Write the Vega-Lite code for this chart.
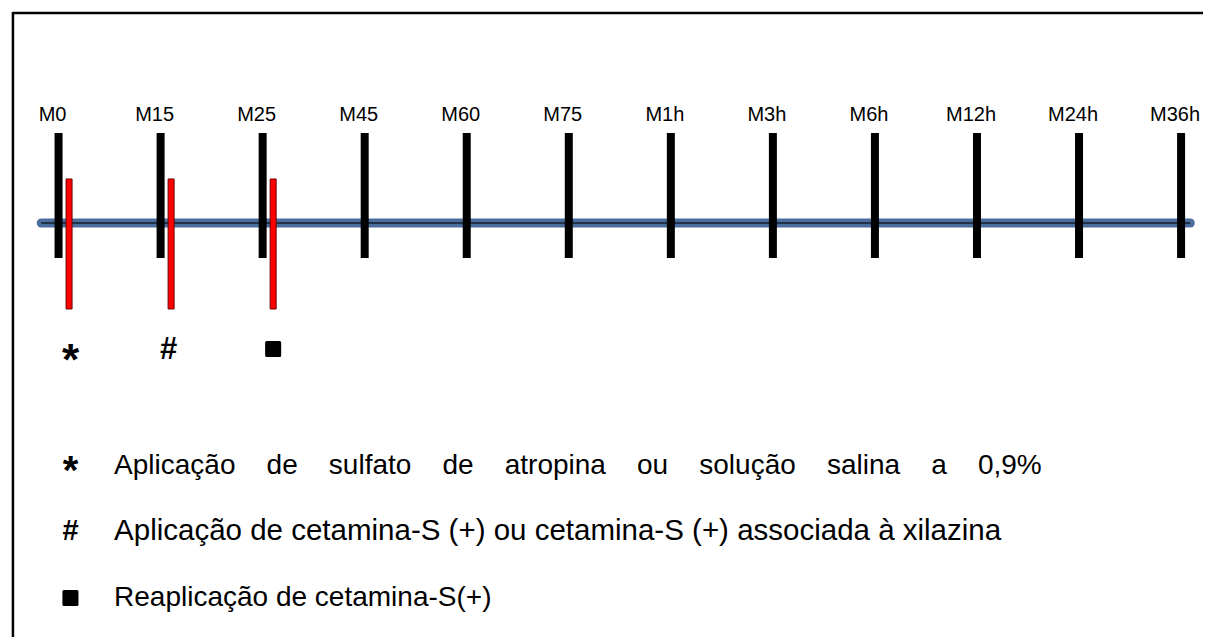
{
  "$schema": "https://vega.github.io/schema/vega-lite/v6.json",
  "width": 1208,
  "height": 637,
  "autosize": {"type": "none"},
  "padding": 0,
  "background": "white",
  "config": {"view": {"stroke": null}, "axis": {"disable": true}, "font": "Liberation Sans"},
  "datasets": {
    "times": [
      {"t": 0, "label": "M0"}, {"t": 1, "label": "M15"}, {"t": 2, "label": "M25"},
      {"t": 3, "label": "M45"}, {"t": 4, "label": "M60"}, {"t": 5, "label": "M75"},
      {"t": 6, "label": "M1h"}, {"t": 7, "label": "M3h"}, {"t": 8, "label": "M6h"},
      {"t": 9, "label": "M12h"}, {"t": 10, "label": "M24h"}, {"t": 11, "label": "M36h"}
    ],
    "apps": [
      {"t": 0, "row": 1, "sym": "*", "desc": "Aplicação\u00a0\u00a0\u00a0\u00a0de\u00a0\u00a0\u00a0\u00a0sulfato\u00a0\u00a0\u00a0\u00a0de\u00a0\u00a0\u00a0\u00a0atropina\u00a0\u00a0\u00a0\u00a0ou\u00a0\u00a0\u00a0\u00a0solução\u00a0\u00a0\u00a0\u00a0salina\u00a0\u00a0\u00a0\u00a0a\u00a0\u00a0\u00a0\u00a00,9%"},
      {"t": 1, "row": 2, "sym": "#", "desc": "Aplicação de cetamina-S (+) ou cetamina-S (+) associada à xilazina"},
      {"t": 2, "row": 3, "sym": "■", "desc": "Reaplicação de cetamina-S(+)"}
    ],
    "one": [{}]
  },
  "layer": [
    {
      "data": {"name": "one"},
      "mark": {"type": "rule", "color": "black", "strokeWidth": 2.5},
      "encoding": {
        "x": {"datum": -0.45, "type": "quantitative", "scale": {"domain": [-0.5248, 11.2148], "nice": false, "zero": false}},
        "x2": {"datum": 11.2148},
        "y": {"datum": -5.985, "type": "quantitative", "scale": {"domain": [-6.1818, 3.4697], "nice": false, "zero": false, "reverse": true}}
      }
    },
    {
      "data": {"name": "one"},
      "mark": {"type": "rule", "color": "black", "strokeWidth": 2.5},
      "encoding": {
        "x": {"datum": -0.447, "type": "quantitative"},
        "y": {"datum": -6.0, "type": "quantitative"},
        "y2": {"datum": 3.4697}
      }
    },
    {
      "data": {"name": "one"},
      "mark": {"type": "rule", "color": "#4a6d9d", "strokeWidth": 9, "strokeCap": "round"},
      "encoding": {
        "x": {"datum": -0.17, "type": "quantitative"},
        "x2": {"datum": 11.09},
        "y": {"datum": -2.803, "type": "quantitative"}
      }
    },
    {
      "data": {"name": "one"},
      "mark": {"type": "rule", "color": "#16202c", "strokeWidth": 1.5},
      "encoding": {
        "x": {"datum": -0.17, "type": "quantitative"},
        "x2": {"datum": 11.09},
        "y": {"datum": -2.803, "type": "quantitative"}
      }
    },
    {
      "data": {"name": "times"},
      "mark": {"type": "rule", "color": "black", "strokeWidth": 8, "strokeCap": "butt"},
      "encoding": {
        "x": {"field": "t", "type": "quantitative"},
        "y": {"datum": -4.167, "type": "quantitative"},
        "y2": {"datum": -2.273}
      }
    },
    {
      "data": {"name": "apps"},
      "mark": {"type": "bar", "width": 6, "fill": "#ff0000", "stroke": "#6e0000", "strokeWidth": 1, "xOffset": 10.5},
      "encoding": {
        "x": {"field": "t", "type": "quantitative"},
        "y": {"datum": -3.47, "type": "quantitative"},
        "y2": {"datum": -1.5}
      }
    },
    {
      "data": {"name": "times"},
      "mark": {"type": "text", "fontSize": 20, "font": "Liberation Sans", "color": "black", "align": "center", "baseline": "alphabetic", "dx": -6},
      "encoding": {
        "x": {"field": "t", "type": "quantitative"},
        "y": {"datum": -4.348, "type": "quantitative"},
        "text": {"field": "label"}
      }
    },
    {
      "data": {"name": "apps"},
      "transform": [{"filter": "datum.sym === '*'"}],
      "mark": {"type": "text", "fontSize": 44, "font": "Liberation Sans", "fontWeight": "bold", "color": "black", "align": "center", "baseline": "alphabetic", "xOffset": 12},
      "encoding": {
        "x": {"field": "t", "type": "quantitative"},
        "y": {"datum": -0.5, "type": "quantitative"},
        "text": {"field": "sym"}
      }
    },
    {
      "data": {"name": "apps"},
      "transform": [{"filter": "datum.sym === '#'"}],
      "mark": {"type": "text", "fontSize": 31, "font": "Liberation Sans", "fontWeight": "bold", "color": "black", "align": "center", "baseline": "alphabetic", "xOffset": 8},
      "encoding": {
        "x": {"field": "t", "type": "quantitative"},
        "y": {"datum": -0.74, "type": "quantitative"},
        "text": {"field": "sym"}
      }
    },
    {
      "data": {"name": "apps"},
      "transform": [{"filter": "datum.row === 3"}],
      "mark": {"type": "point", "shape": "square", "size": 170, "filled": true, "color": "black", "stroke": "black", "strokeWidth": 3, "strokeJoin": "round", "opacity": 1, "xOffset": 10.5},
      "encoding": {
        "x": {"field": "t", "type": "quantitative"},
        "y": {"datum": -0.894, "type": "quantitative"}
      }
    },
    {
      "data": {"name": "apps"},
      "mark": {"type": "text", "font": "Liberation Sans", "color": "black", "align": "left", "baseline": "alphabetic"},
      "encoding": {
        "x": {"datum": 0.544, "type": "quantitative"},
        "y": {"field": "row", "type": "quantitative"},
        "text": {"field": "desc"},
        "size": {"condition": {"test": "datum.row === 2", "value": 29.5}, "value": 28}
      }
    },
    {
      "data": {"name": "apps"},
      "transform": [{"filter": "datum.sym === '*'"}],
      "mark": {"type": "text", "fontSize": 40, "font": "Liberation Sans", "fontWeight": "bold", "color": "black", "align": "center", "baseline": "alphabetic", "yOffset": 10},
      "encoding": {
        "x": {"datum": 0.1166, "type": "quantitative"},
        "y": {"field": "row", "type": "quantitative"},
        "text": {"field": "sym"}
      }
    },
    {
      "data": {"name": "apps"},
      "transform": [{"filter": "datum.sym === '#'"}],
      "mark": {"type": "text", "fontSize": 29, "font": "Liberation Sans", "fontWeight": "bold", "color": "black", "align": "center", "baseline": "alphabetic"},
      "encoding": {
        "x": {"datum": 0.1166, "type": "quantitative"},
        "y": {"field": "row", "type": "quantitative"},
        "text": {"field": "sym"}
      }
    },
    {
      "data": {"name": "apps"},
      "transform": [{"filter": "datum.row === 3"}],
      "mark": {"type": "point", "shape": "square", "size": 170, "filled": true, "color": "black", "stroke": "black", "strokeWidth": 3, "strokeJoin": "round", "opacity": 1, "yOffset": -8},
      "encoding": {
        "x": {"datum": 0.1166, "type": "quantitative"},
        "y": {"field": "row", "type": "quantitative"}
      }
    }
  ]
}
